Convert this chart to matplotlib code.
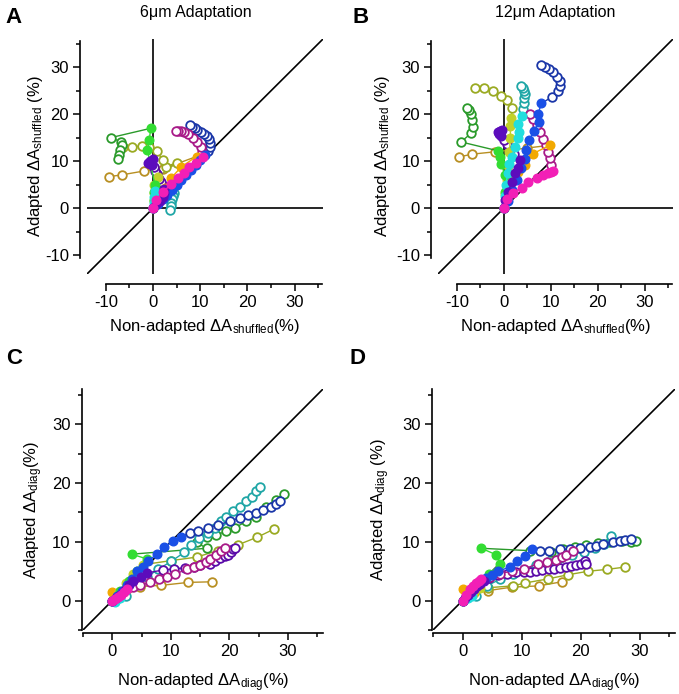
import matplotlib
matplotlib.use("Agg")
import matplotlib.pyplot as plt
from matplotlib.ticker import MultipleLocator

plt.rcParams["font.family"] = ["Liberation Sans", "DejaVu Sans"]
plt.rcParams["mathtext.fontset"] = "custom"
plt.rcParams["mathtext.rm"] = "Liberation Sans"
plt.rcParams["mathtext.it"] = "Liberation Sans:italic"
plt.rcParams["axes.unicode_minus"] = False

# couleurs : (pleine, vide)
COULEURS = {
    "or": ("#f2a900", "#b88f22"),
    "olive": ("#c2d22a", "#9aaa22"),
    "vert": ("#33dd33", "#2a9a2a"),
    "cyan": ("#22dede", "#1fa6a6"),
    "bleu": ("#1a50e6", "#1a36a8"),
    "violet": ("#5c0cbc", "#5a0aa8"),
    "magenta": ("#f21fb6", "#a81a88"),
}

# ---- panneau A : 6um, shuffled ----
A_OR_F = [(0, 0), (1.3, 2.2), (2.6, 4.4), (3.9, 6.5), (6.0, 8.8), (9.2, 11.0)]
A_OR_O = [(2.2, 8.4), (-2.0, 7.9), (-6.6, 7.1), (-9.4, 6.7)]
A_OLIVE_F = [(0, 0), (0.2, 1.6), (0.3, 3.2), (0.3, 4.9), (1.0, 6.6)]
A_OLIVE_O = [(5.0, 9.7), (2.7, 8.8), (2.0, 10.2), (0.8, 12.2), (-0.8, 13.0), (-2.4, 13.3), (-4.4, 13.0), (-6.3, 13.1)]
A_VERT_F = [(0, 0), (0.2, 1.8), (0.3, 3.5), (0.4, 5.0), (-1.2, 12.3), (-0.8, 14.6), (-0.5, 17.0)]
A_VERT_O = [(-9.0, 15.0), (-6.7, 14.1), (-6.6, 13.4), (-7.0, 12.3), (-7.2, 11.3), (-7.5, 10.4)]
A_CYAN_F = [(0, 0), (0.1, 1.2), (0.2, 2.4), (0.4, 3.6)]
A_CYAN_O = [(4.5, 3.3), (4.3, 2.6), (4.1, 1.9), (3.9, 1.2), (3.7, 0.4), (3.5, -0.4)]
A_BLEU_F = [(0, 0), (1.0, 0.9), (2.0, 1.9), (3.0, 2.9), (4.0, 3.9), (5.0, 5.0), (6.0, 6.0), (7.0, 7.0),
            (8.0, 8.1), (9.0, 9.2), (10.0, 10.3), (11.0, 11.3)]
A_BLEU_O = [(11.6, 12.2), (12.0, 13.0), (12.1, 13.9), (11.9, 14.7), (11.4, 15.3), (10.8, 15.8), (10.1, 16.2),
            (9.4, 16.6), (8.8, 17.0), (8.3, 17.3), (7.9, 17.6)]
A_VIOLET_F = [(0, 0), (0.7, 0.8), (1.4, 1.6), (2.0, 2.4), (2.4, 3.2), (2.3, 4.0)]
A_VIOLET_O = [(2.0, 4.7), (1.7, 5.5), (1.3, 6.3), (0.9, 7.2), (0.5, 8.0), (0.1, 8.7)]
A_VIOLET_F2 = [(-0.3, 9.1), (-0.7, 9.4), (-1.0, 9.7), (-0.6, 10.1), (-0.1, 10.4)]
A_MAGENTA_F = [(0, 0), (0.7, 1.8), (2.2, 3.5), (3.8, 5.1), (5.2, 6.5), (6.5, 7.5), (7.7, 8.8), (9.1, 9.6), (10.5, 10.9)]
A_MAGENTA_O = [(10.4, 12.0), (10.1, 13.0), (9.4, 14.1), (8.4, 15.0), (7.3, 15.8), (6.5, 16.2), (5.9, 16.4),
               (5.3, 16.5), (4.9, 16.4)]

# ---- panneau B : 12um, shuffled ----
B_OR_F = [(0, 0), (0.4, 2.8), (1.6, 6.0), (3.0, 7.8), (4.5, 9.2), (6.2, 11.6), (9.8, 13.4)]
B_OR_O = [(5.0, 12.8), (-1.9, 12.0), (-6.7, 11.5), (-9.6, 10.9)]
B_OLIVE_F = [(0, 0), (0.3, 3.0), (0.6, 6.0), (0.9, 9.0), (1.2, 12.0), (1.4, 15.0), (1.4, 17.4), (1.6, 19.2)]
B_OLIVE_O = [(1.8, 21.3), (0.6, 23.0), (-0.6, 23.9), (-2.4, 25.0), (-4.2, 25.6), (-6.2, 25.5)]
B_VERT_F = [(0, 0), (0.2, 3.5), (0.2, 7.0), (-0.5, 9.5), (-0.9, 10.8), (-1.2, 12.2)]
B_VERT_O = [(-9.1, 14.1), (-6.9, 16.0), (-6.5, 17.3), (-6.7, 18.7), (-6.9, 20.1), (-7.4, 20.9), (-7.9, 21.3)]
B_CYAN_F = [(0, 0), (0.3, 2.5), (0.5, 5.0), (0.8, 7.5), (1.2, 9.5), (1.8, 10.9), (2.3, 13.0), (3.0, 15.0),
            (3.3, 16.2), (3.0, 18.0), (3.8, 19.7)]
B_CYAN_O = [(4.1, 21.1), (4.3, 22.4), (4.4, 23.5), (4.5, 24.3), (4.3, 25.0), (4.0, 25.6), (3.6, 25.9)]
B_BLEU_F = [(0, 0), (0.8, 1.5), (1.8, 3.8), (2.8, 6.0), (3.6, 8.5), (4.5, 10.5), (4.7, 12.3), (5.4, 14.5),
            (6.5, 16.5), (7.4, 18.3), (7.3, 20.1), (8.0, 22.3)]
B_BLEU_O = [(10.3, 23.7), (11.6, 25.0), (11.9, 26.1), (12.0, 27.1), (11.3, 27.9), (10.5, 28.9), (9.6, 29.6),
            (8.8, 30.0), (8.0, 30.4)]
B_VIOLET_F = [(0, 0), (0.2, 1.8), (0.9, 3.5), (1.8, 5.6), (2.3, 7.4), (3.0, 8.5), (3.4, 10.2)]
B_VIOLET_O = [(2.1, 11.6), (1.3, 12.7), (0.6, 13.7), (0.0, 14.6)]
B_VIOLET_F2 = [(-0.6, 15.3), (-1.1, 15.8), (-1.2, 16.2), (-0.8, 16.5), (-0.3, 16.7)]
B_MAGENTA_F = [(0, 0), (0.6, 1.9), (2.0, 3.3), (3.8, 4.4), (5.2, 5.6), (7.0, 6.5), (8.4, 7.0), (9.4, 7.5),
               (10.0, 7.7), (10.5, 7.9)]
B_MAGENTA_O = [(10.1, 9.2), (9.8, 10.6), (9.4, 12.0), (8.9, 13.4), (8.4, 14.8), (7.7, 16.2), (7.0, 17.6),
               (6.2, 19.0), (5.5, 20.1)]

# ---- panneau C : 6um, diag ----
C_OR_F = [(0, 0), (0.0, 1.4), (0.8, 1.0), (1.6, 1.5)]
C_OR_O = [(2.5, 1.9), (4.8, 2.4), (8.4, 2.6), (13.0, 3.1), (17.0, 3.2)]
C_OLIVE_F = [(0, 0), (1.2, 1.5), (2.4, 3.0), (3.6, 4.5), (5.2, 6.1)]
C_OLIVE_O = [(10.0, 6.8), (14.4, 7.4), (18.0, 8.5), (21.5, 9.5), (24.8, 10.8), (27.7, 12.2)]
C_VERT_F = [(0, 0), (1.4, 1.6), (2.8, 3.3), (4.2, 5.0), (5.9, 7.1), (3.3, 7.9)]
C_VERT_O = [(16.1, 8.9), (14.4, 9.9), (16.1, 10.8), (17.8, 11.2), (19.5, 11.8), (21.0, 12.4), (22.9, 13.5),
            (24.6, 14.3), (26.3, 16.0), (27.9, 17.2), (29.4, 18.2)]
C_CYAN_F = [(0, 0), (0.4, -0.3), (0.8, 0.2), (1.4, 0.4)]
C_CYAN_O = [(2.3, 0.7), (4.1, 2.7), (5.9, 4.0), (7.8, 5.3), (10.1, 6.7), (12.3, 8.2), (13.5, 9.5), (14.9, 10.7),
            (16.4, 11.5), (17.5, 12.4), (18.6, 13.5), (19.5, 14.3), (20.6, 15.2), (21.8, 16.0), (22.8, 16.9),
            (23.8, 17.7), (24.6, 18.6), (25.3, 19.3)]
C_BLEU_F = [(0, 0), (0.8, 0.8), (1.6, 1.7), (2.5, 2.6), (3.4, 3.7), (4.3, 5.0), (5.2, 5.8), (6.1, 6.7),
            (7.6, 7.9), (8.9, 9.1), (10.4, 10.1), (11.8, 10.9)]
C_BLEU_O = [(13.2, 11.5), (14.7, 11.8), (16.4, 12.4), (18.1, 12.9), (20.1, 13.5), (21.8, 14.1), (23.2, 14.5),
            (24.6, 14.9), (25.7, 15.5), (27.2, 16.0), (28.0, 16.4), (28.7, 16.9)]
C_VIOLET_F = [(0, 0), (0.7, 0.5), (1.4, 1.0), (2.1, 1.8), (2.8, 2.6), (3.5, 3.3), (4.9, 4.1), (5.9, 4.7)]
C_VIOLET_O = [(8.6, 5.2), (10.5, 5.4), (12.5, 5.6), (14.0, 5.7), (15.0, 6.0), (16.7, 6.3), (17.5, 6.8),
              (18.4, 7.3), (19.2, 7.6), (19.8, 7.8), (20.3, 8.3), (20.6, 8.8), (20.9, 9.0)]
C_MAGENTA_F = [(0, 0), (0.5, 0.3), (1.0, 0.6), (1.5, 1.0), (2.0, 1.4), (2.5, 1.9)]
C_MAGENTA_O = [(3.5, 2.3), (4.8, 2.6), (6.5, 3.1), (8.0, 3.6), (9.3, 4.1), (10.7, 4.5), (12.7, 5.3), (14.0, 5.7),
               (15.0, 6.1), (16.0, 6.6), (16.7, 7.0), (17.8, 7.8), (18.5, 8.4), (19.2, 9.0)]

# ---- panneau D : 12um, diag ----
D_OR_F = [(0, 0), (0.0, 1.9), (1.0, 1.2), (2.0, 1.3)]
D_OR_O = [(4.3, 1.7), (8.4, 2.3), (12.9, 2.5), (16.8, 3.2)]
D_OLIVE_F = [(0, 0), (1.0, 0.8), (2.0, 1.6), (3.0, 2.2)]
D_OLIVE_O = [(4.4, 2.2), (8.5, 2.5), (10.6, 3.0), (14.5, 3.7), (17.9, 4.4), (21.3, 5.0), (24.4, 5.3), (27.5, 5.7)]
D_VERT_F = [(0, 0), (1.5, 1.5), (3.0, 3.0), (4.5, 4.5), (6.4, 6.3), (5.7, 7.8), (3.2, 8.9)]
D_VERT_O = [(11.4, 8.5), (15.0, 8.3), (17.0, 8.8), (19.0, 9.2), (21.0, 9.5), (23.0, 9.8), (25.0, 10.0),
            (27.0, 10.1), (28.5, 10.0), (29.4, 10.2)]
D_CYAN_F = [(0, 0), (0.5, 0.3), (1.0, 0.5), (1.6, 0.7)]
D_CYAN_O = [(2.3, 0.8), (4.1, 2.5), (6.3, 3.6), (8.5, 4.5), (10.5, 5.2), (12.5, 6.0), (14.5, 6.6), (16.5, 7.2),
            (18.5, 7.8), (20.5, 8.3), (22.5, 9.0), (24.0, 9.6), (25.2, 11.0)]
D_BLEU_F = [(0, 0), (1.0, 1.0), (2.0, 2.0), (3.0, 3.0), (4.0, 3.8), (5.0, 4.4), (6.0, 5.0), (8.0, 5.7),
            (9.2, 6.7), (10.6, 7.6), (11.8, 8.7)]
D_BLEU_O = [(13.1, 8.4), (14.7, 8.5), (16.5, 8.7), (18.2, 8.7), (19.9, 8.9), (21.6, 9.1), (22.7, 9.3),
            (23.8, 9.6), (25.5, 10.0), (26.7, 10.2), (27.5, 10.3), (28.6, 10.5)]
D_VIOLET_F = [(0, 0), (0.5, 0.5), (1.0, 1.0), (1.5, 1.5), (2.0, 2.0), (2.5, 2.5), (3.0, 2.9), (3.6, 3.3)]
D_VIOLET_O = [(4.5, 3.8), (6.0, 4.3), (7.5, 4.6), (9.0, 4.8), (10.5, 4.9), (11.4, 4.9), (12.5, 5.0), (13.5, 5.2),
              (14.7, 5.4), (15.5, 5.4), (16.5, 5.5), (17.5, 5.7), (18.4, 5.9), (19.2, 6.0), (20.0, 6.3),
              (20.7, 6.8), (21.0, 6.3)]
D_MAGENTA_F = [(0, 0), (0.6, 1.0), (1.2, 1.9), (1.7, 2.5), (2.3, 3.0), (2.8, 3.4), (3.2, 3.7)]
D_MAGENTA_O = [(4.6, 4.1), (6.3, 4.6), (8.3, 5.0), (10.5, 5.4), (12.8, 6.3), (14.3, 6.6), (15.9, 6.9),
               (16.8, 7.4), (17.6, 7.8), (18.7, 8.5)]

PANNEAUX = {
    "A": [("or", A_OR_F, A_OR_O, []), ("olive", A_OLIVE_F, A_OLIVE_O, []), ("vert", A_VERT_F, A_VERT_O, []),
          ("cyan", A_CYAN_F, A_CYAN_O, []), ("bleu", A_BLEU_F, A_BLEU_O, []),
          ("violet", A_VIOLET_F, A_VIOLET_O, A_VIOLET_F2), ("magenta", A_MAGENTA_F, A_MAGENTA_O, [])],
    "B": [("or", B_OR_F, B_OR_O, []), ("olive", B_OLIVE_F, B_OLIVE_O, []), ("vert", B_VERT_F, B_VERT_O, []),
          ("cyan", B_CYAN_F, B_CYAN_O, []), ("bleu", B_BLEU_F, B_BLEU_O, []),
          ("violet", B_VIOLET_F, B_VIOLET_O, B_VIOLET_F2), ("magenta", B_MAGENTA_F, B_MAGENTA_O, [])],
    "C": [("or", C_OR_F, C_OR_O, []), ("olive", C_OLIVE_F, C_OLIVE_O, []), ("vert", C_VERT_F, C_VERT_O, []),
          ("cyan", C_CYAN_F, C_CYAN_O, []), ("bleu", C_BLEU_F, C_BLEU_O, []),
          ("violet", C_VIOLET_F, C_VIOLET_O, []), ("magenta", C_MAGENTA_F, C_MAGENTA_O, [])],
    "D": [("or", D_OR_F, D_OR_O, []), ("olive", D_OLIVE_F, D_OLIVE_O, []), ("vert", D_VERT_F, D_VERT_O, []),
          ("cyan", D_CYAN_F, D_CYAN_O, []), ("bleu", D_BLEU_F, D_BLEU_O, []),
          ("violet", D_VIOLET_F, D_VIOLET_O, []), ("magenta", D_MAGENTA_F, D_MAGENTA_O, [])],
}

W, H = 679, 694
# boites des axes en pixels : gauche, haut, droite, bas
BOITES = {"A": (87, 39, 323, 274), "B": (438, 39, 673, 274),
          "C": (83, 389, 323, 630), "D": (433, 389, 675, 630)}
# position des titres d'axes (fraction des axes)
POS_YLABEL = {"A": -0.178, "B": -0.196, "C": -0.158, "D": -0.169}

SHUF = r"ΔA$_{\mathrm{shuffled}}$"
DIAG = r"ΔA$_{\mathrm{diag}}$"
YLABELS = {"A": "Adapted " + SHUF + " (%)", "B": "Adapted " + SHUF + " (%)",
           "C": "Adapted " + DIAG + "(%)", "D": "Adapted " + DIAG + " (%)"}
XLABELS = {"A": "Non-adapted " + SHUF + "(%)", "B": "Non-adapted " + SHUF + "(%)",
           "C": "Non-adapted " + DIAG + "(%)", "D": "Non-adapted " + DIAG + "(%)"}
MS = 6.2


def tracer_trajectoire(ax, nom, pleins, vides, pleins2):
    _, c_vide = COULEURS[nom]
    fx, fy = zip(*pleins)
    ox, oy = zip(*vides)
    ax.plot([fx[-1], ox[0]], [fy[-1], oy[0]], color=c_vide, lw=1.0, zorder=2)
    if pleins2:
        ax.plot([ox[-1], pleins2[0][0]], [oy[-1], pleins2[0][1]], color=c_vide, lw=1.0, zorder=2)
    ax.plot(ox, oy, "-o", color=c_vide, mfc="white", mec=c_vide, ms=MS, mew=1.3, lw=1.0, zorder=2)


def tracer_pleins(ax, nom, pleins):
    c_plein, _ = COULEURS[nom]
    fx, fy = zip(*pleins)
    ax.plot(fx, fy, "-o", color=c_plein, mfc=c_plein, mec=c_plein, ms=MS, mew=1.0, lw=1.0, zorder=3)


fig = plt.figure(figsize=(W / 100, H / 100), dpi=100)

for cle, series in PANNEAUX.items():
    g, h, d, b = BOITES[cle]
    ax = fig.add_axes([g / W, 1 - b / H, (d - g) / W, (b - h) / H])
    bas = -14 if cle in "AB" else -5
    ax.set_xlim(bas, 36)
    ax.set_ylim(bas, 36)
    ax.plot([bas, 36], [bas, 36], color="black", lw=1.2, zorder=1)
    if cle in "AB":
        ax.axhline(0, color="black", lw=1.2, zorder=1)
        ax.axvline(0, color="black", lw=1.2, zorder=1)
    for nom, pleins, vides, pleins2 in series:
        tracer_trajectoire(ax, nom, pleins, vides, pleins2)
    for nom, pleins, vides, pleins2 in series:
        tracer_pleins(ax, nom, pleins)
        if pleins2:
            tracer_pleins(ax, nom, pleins2)

    for cote in ("top", "right"):
        ax.spines[cote].set_visible(False)
    for cote in ("left", "bottom"):
        ax.spines[cote].set_linewidth(1.2)
    if cle in "AB":
        ax.spines["left"].set_position(("outward", 5))
        ax.spines["bottom"].set_position(("outward", 7))
        ax.spines["left"].set_bounds(-10.5, 35.5)
        ax.spines["bottom"].set_bounds(-10, 35.8)
        ax.set_xticks([-10, 0, 10, 20, 30])
        ax.set_yticks([-10, 0, 10, 20, 30])
    else:
        ax.spines["left"].set_position(("outward", 1))
        ax.spines["bottom"].set_position(("outward", 2))
        ax.set_xticks([0, 10, 20, 30])
        ax.set_yticks([0, 10, 20, 30])
    ax.xaxis.set_minor_locator(MultipleLocator(5))
    ax.yaxis.set_minor_locator(MultipleLocator(5))
    ax.tick_params(which="major", direction="out", length=5, width=1.1, labelsize=12, pad=3)
    ax.tick_params(which="minor", direction="out", length=3, width=1.1)
    ax.patch.set_visible(False)

    ax.set_ylabel(YLABELS[cle], fontsize=12)
    ax.yaxis.set_label_coords(POS_YLABEL[cle], 0.5)
    ax.set_xlabel(XLABELS[cle], fontsize=12, labelpad=5.5 if cle in "AB" else 9)

# lettres et titres
fig.text(5 / W, 1 - 23 / H, "A", fontsize=16, fontweight="bold")
fig.text(352 / W, 1 - 23 / H, "B", fontsize=16, fontweight="bold")
fig.text(6 / W, 1 - 364 / H, "C", fontsize=16, fontweight="bold")
fig.text(350 / W, 1 - 364 / H, "D", fontsize=16, fontweight="bold")
fig.text(196 / W, 1 - 13 / H, "6μm Adaptation", fontsize=11.5, ha="center", va="center")
fig.text(555 / W, 1 - 13 / H, "12μm Adaptation", fontsize=11.5, ha="center", va="center")

fig.savefig("out.png", dpi=100)
